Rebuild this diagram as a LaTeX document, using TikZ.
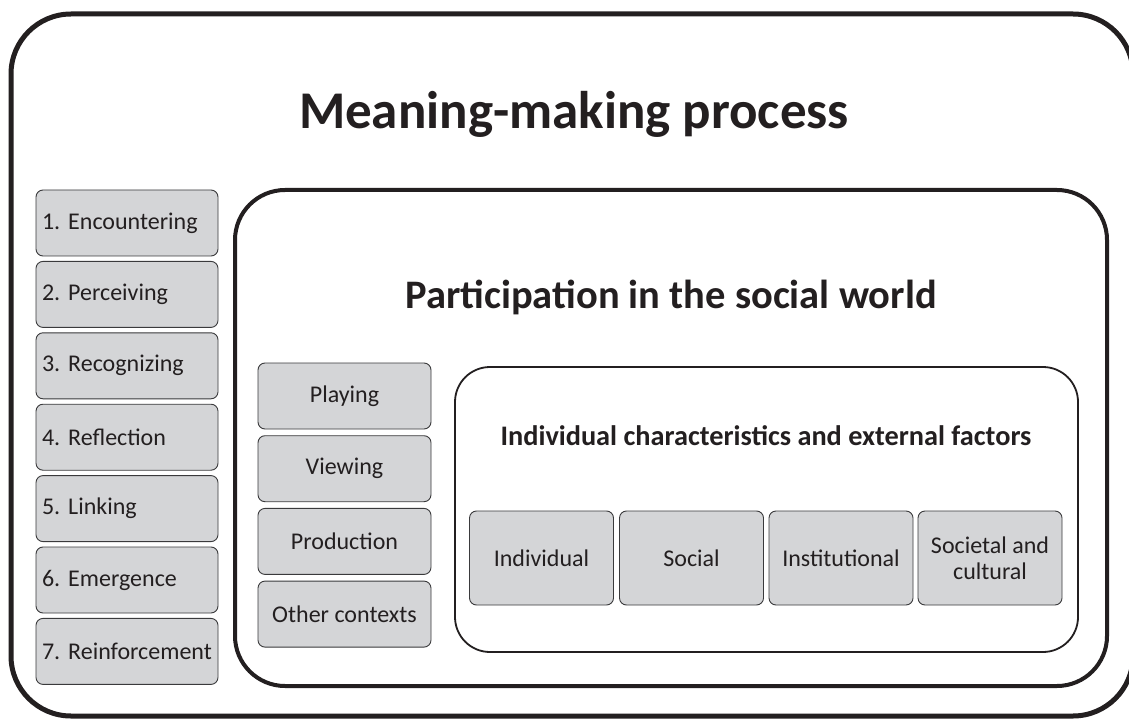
\documentclass[tikz,border=0pt]{standalone}
\usepackage{fontspec}
\setmainfont{Carlito}
\frenchspacing
\definecolor{boxgray}{HTML}{D4D5D7}
\definecolor{boxline}{HTML}{3A3A3C}
\definecolor{ink}{HTML}{231F20}
\begin{document}
\begin{tikzpicture}[x=1pt,y=-1pt,
  graybox/.style={draw=boxline,fill=boxgray,line width=0.9pt,rounded corners=7pt,inner sep=0pt,text=ink},
  stepbox/.style={graybox,minimum width=182pt,minimum height=66pt,text width=170pt,align=left,font=\fontsize{24}{28}\selectfont},
  ctxbox/.style={graybox,minimum width=173pt,minimum height=66pt,align=center,font=\fontsize{24}{28}\selectfont},
  facbox/.style={graybox,minimum width=144pt,minimum height=94pt,align=center,font=\fontsize{24}{26}\selectfont},
  frame/.style={draw=ink,fill=white,inner sep=0pt}
]
\useasboundingbox (0,0) rectangle (1129,719);
\node[frame,line width=5pt,rounded corners=60pt,minimum width=1122pt,minimum height=702pt] (outer) at (572,365) {};
\node[font=\fontsize{53}{60}\bfseries\selectfont,text=ink,anchor=base] (title) at (574,129) {Meaning-making process};
\foreach \t [count=\i] in {1. Encountering,2. Perceiving,3. Recognizing,4. Reflection,5. Linking,6. Emergence,7. Reinforcement}{
  \node[stepbox] (s\i) at (127,{223+71.4*(\i-1)}) {\t};
}
\node[frame,line width=4pt,rounded corners=50pt,minimum width=872pt,minimum height=496pt] (part) at (671,438) {};
\node[font=\fontsize{40.5}{46}\bfseries\selectfont,text=ink,anchor=base] (ptitle) at (671,308) {Participation in the social world};
\foreach \t [count=\i] in {Playing,Viewing,Production,Other contexts}{
  \node[ctxbox] (c\i) at (344.5,{396+72.7*(\i-1)}) {\t};
}
\node[frame,line width=1.8pt,rounded corners=35pt,minimum width=623pt,minimum height=285pt] (ind) at (766.5,509.5) {};
\node[font=\fontsize{28.3}{32}\bfseries\selectfont,text=ink,anchor=base] (ititle) at (766,445) {Individual characteristics and external factors};
\node[facbox] (f1) at (541.5,558) {Individual};
\node[facbox] (f2) at (691.5,558) {Social};
\node[facbox] (f3) at (841,558) {Institutional};
\node[facbox] (f4) at (990,558) {Societal and\\cultural};
\end{tikzpicture}
\end{document}
